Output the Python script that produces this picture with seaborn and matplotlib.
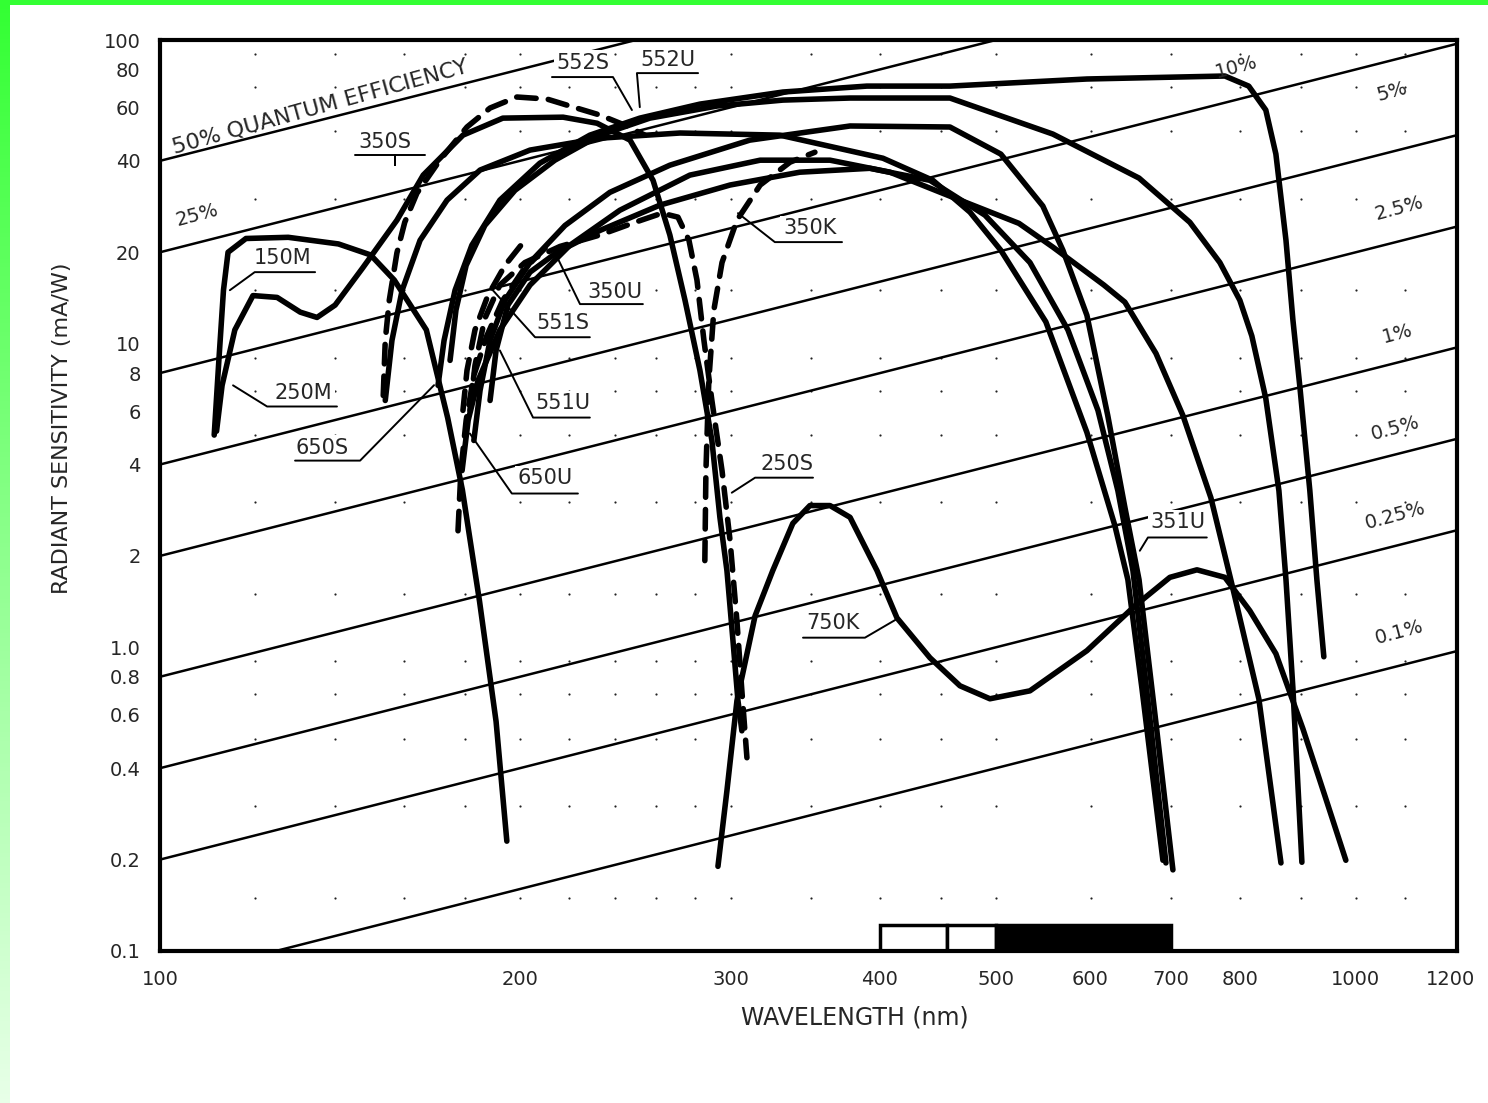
import matplotlib
matplotlib.use("Agg")
import matplotlib.pyplot as plt
from matplotlib.patches import Rectangle
from matplotlib.colors import LinearSegmentedColormap
import numpy as np
import pandas as pd
import seaborn as sns

# photocathode responses: wavelength (nm) vs radiant sensitivity (mA/W)
wl_150M = [111, 112, 113, 114, 118, 128, 141, 150, 157, 167, 174, 179, 185, 191, 195]
s_150M = [5.0, 8.8, 15, 20, 22.2, 22.4, 21.3, 19.6, 16.2, 11.1, 5.7, 3.3, 1.42, 0.57, 0.23]

wl_250M = [111.5, 112.7, 115.5, 119.6, 125.3, 131, 135.3, 140.1, 147.8, 157.8, 166, 179.2, 193.5,
           217.3, 232, 247.2, 258.4, 266.9, 274.8, 282.8, 289.4, 293.9, 297.9, 301.4, 304.3, 306.6]
s_250M = [5.15, 7.29, 11.1, 14.4, 14.2, 12.7, 12.2, 13.4, 17.8, 25.5, 35.9, 48.6, 55.3,
          55.7, 53.2, 46.8, 34.5, 22.8, 13.9, 8.17, 4.8, 2.68, 1.79, 1.05, 0.667, 0.531]

wl_552S = [153.7, 154.3, 155.5, 157.8, 160.2, 164, 171.4, 180.6, 188.8, 198.8, 210.7, 220.2, 233.3, 244.8, 254.4]
s_552S = [6.75, 10.25, 13.9, 19.9, 25.1, 31.3, 40.2, 51.7, 59.7, 64.9, 63.9, 60.6, 56.6, 52.4, 48.6]

wl_250S = [181.6, 183.4, 186.9, 192.4, 201.9, 216, 233.3, 249.6, 262.9, 271.1, 276.9, 281.2, 285,
           289.4, 295.1, 299.7, 303.7, 306.6, 309.6]
s_250S = [6.03, 8.48, 12.1, 15.6, 18.5, 20.9, 22.8, 25.1, 26.9, 26.1, 21.9, 16.2, 10.25,
          6.5, 3.82, 2.25, 1.22, 0.719, 0.433]

wl_350K = [285.5, 286.1, 287.7, 290.5, 295.1, 303.7, 317.6, 336.4, 352.9]
s_350K = [1.93, 3.82, 7.57, 12.9, 18.5, 25.5, 33.3, 39.6, 42.7]

wl_750K = [292.8, 297.9, 303.7, 314.5, 325.4, 338.2, 349.5, 363.3, 377.6, 397.7, 413.3, 440.4, 466.6,
           494.3, 533.9, 595.8, 653.6, 699, 736.4, 777.1, 815.3, 857.3, 903.1, 942.2, 980.9]
s_750K = [0.19, 0.337, 0.667, 1.27, 1.79, 2.56, 2.93, 2.93, 2.68, 1.79, 1.25, 0.924, 0.747,
          0.677, 0.719, 0.975, 1.37, 1.70, 1.80, 1.70, 1.32, 0.953, 0.539, 0.324, 0.199]

wl_650S = [170.8, 172.8, 176.5, 182.3, 192.4, 207.8, 228.8, 251.9, 282.8, 331.8, 390, 457.7, 595.8,
           777.1, 813.6, 840.8, 857.3, 874.1, 885.8, 897.9, 915.2, 927.7, 940.2]
s_650S = [7.29, 10.25, 15.0, 21.1, 29.7, 39.3, 48.6, 55.3, 61.5, 67.4, 70.5, 70.5, 74.4,
          76.1, 70.5, 58.8, 42.1, 21.9, 12.0, 7.18, 3.28, 1.67, 0.931]

wl_552U = [174.8, 176.8, 180.3, 186.9, 198.1, 213.9, 233.3, 256.8, 292.2, 331.8, 377.6, 457.7, 558,
           658.7, 726.4, 769.6, 799.8, 818.5, 840.8, 862.3, 874.1, 885.8, 901.3]
s_552U = [8.81, 12.9, 18.1, 24.5, 32.0, 40.2, 48.6, 55.3, 60.6, 63.4, 64.4, 64.4, 49.0,
          35.1, 25.1, 18.5, 13.9, 10.6, 6.6, 3.28, 1.67, 0.736, 0.196]

wl_551U = [178.9, 181, 184.5, 192.4, 203.9, 220.2, 242.4, 277.4, 317.6, 363.3, 407.8, 457.7, 522.7,
           558, 615.6, 641, 680.5, 716.8, 756.4, 786, 829.6, 865.7]
s_551U = [3.82, 5.59, 7.57, 11.1, 15.6, 21.1, 27.5, 35.9, 40.2, 40.2, 36.7, 30.6, 24.9,
          20.8, 15.6, 13.7, 9.29, 5.8, 3.11, 1.67, 0.677, 0.195]

wl_351U = [183, 185.2, 188.8, 194.3, 203.9, 218.1, 237.8, 266.9, 311.3, 377.6, 457.7, 504.8, 547.3,
           568.9, 595.8, 620.2, 641, 658.7, 680.5, 703.1]
s_351U = [4.8, 7.02, 10.25, 13.9, 18.5, 24.5, 31.5, 38.7, 46.8, 52.1, 51.7, 42.1, 28.4,
          20.3, 12.4, 5.8, 2.89, 1.67, 0.564, 0.185]

wl_350S = [154.3, 156.3, 159.4, 165, 173.8, 185.2, 203.9, 233.3, 272.2, 329.9, 402.3, 442.9, 475.7,
           504.8, 550.5, 595.8, 628.7, 644.7, 662.3, 689.7]
s_350S = [6.5, 10.25, 15.0, 21.9, 29.7, 37.3, 43.4, 47.5, 49.4, 48.6, 40.8, 34.5, 27.1,
          20.3, 11.8, 5.1, 2.52, 1.67, 0.736, 0.199]

wl_350U = [188.8, 191, 195.4, 203.9, 214.8, 233.3, 261.9, 299.7, 342.8, 392.3, 440.4, 489.6, 533.9,
           574.4, 608.6, 632.4, 651, 670.1, 693.7]
s_350U = [6.5, 9.5, 13.4, 17.2, 20.0, 23.6, 28.6, 33.3, 36.7, 37.8, 34.5, 26.5, 18.5,
          11.1, 6.03, 3.28, 1.79, 0.667, 0.195]

wl_650U = [177.5, 178.5, 180.3, 183, 187.6, 193.5, 201.1, 211.1]
s_650U = [2.42, 3.82, 5.59, 7.86, 10.6, 13.9, 17.4, 21.1]

wl_551S = [179.2, 180.6, 183.4, 188, 194.3, 201.9]
s_551S = [6.03, 8.17, 11.1, 14.4, 18.1, 21.9]

curves = {
    "150M": (wl_150M, s_150M, False), "250M": (wl_250M, s_250M, False),
    "552S": (wl_552S, s_552S, True), "250S": (wl_250S, s_250S, True),
    "350K": (wl_350K, s_350K, True), "750K": (wl_750K, s_750K, False),
    "650S": (wl_650S, s_650S, False), "552U": (wl_552U, s_552U, False),
    "551U": (wl_551U, s_551U, False), "351U": (wl_351U, s_351U, False),
    "350S": (wl_350S, s_350S, False), "350U": (wl_350U, s_350U, False),
    "650U": (wl_650U, s_650U, True), "551S": (wl_551S, s_551S, True),
}

# quantum efficiency reference lines, value read at 100 nm and 1200 nm
qe_names = ["50%", "25%", "10%", "5%", "2.5%", "1%", "0.5%", "0.25%", "0.1%"]
qe_at_100 = [40, 20, 8, 4, 2, 0.8, 0.4, 0.2, 0.08]
qe_at_1200 = [480, 240, 96, 48, 24, 9.6, 4.8, 2.4, 0.96]
qe_lab_x = [None, 107.4, 794, 1072, 1088, 1084, 1078, 1078, 1088]
qe_lab_y = [None, 26.5, 81.5, 67.4, 27.9, 10.8, 5.26, 2.72, 1.12]

# curve labels with underline + leader
lab_names = ["150M", "250M", "650S", "650U", "551U", "551S", "350U", "350K", "250S", "750K", "351U",
             "350S", "552S", "552U"]
lab_x = [126.7, 131.7, 136.6, 209.9, 217.3, 217.3, 240.1, 349.5, 334.3, 365.4, 710, 154.3, 225.8, 265.9]
lab_y = [19.1, 6.86, 4.55, 3.60, 6.36, 11.7, 14.8, 24.0, 4.03, 1.205, 2.58, 46.1, 84.0, 85.9]
lead_x = [[134.8, 120.0, 114.4], [140.6, 122.9, 115.1], [129.7, 147.0, 169.5], [223.6, 196.9, 181.6],
          [228.8, 205.1, 192.4], [228.8, 205.9, 189.8], [253.4, 224.5, 214.8], [371.8, 326.7, 304.3],
          [351.6, 314.5, 300.7], [344.9, 388.6, 413.3], [750.5, 670.1, 659.7],
          [145.6, 157.2, 157.2, 157.2, 166.6], [212.7, 239.2, 248.1], [281.8, 250.5, 251.9]]
lead_y = [[17.2, 17.2, 15.0], [6.21, 6.21, 7.29], [4.12, 4.12, 7.3], [3.21, 3.21, 5.06],
          [5.71, 5.71, 9.50], [10.5, 10.5, 15.0], [13.5, 13.5, 19.3], [21.6, 21.6, 26.9],
          [3.62, 3.62, 3.23], [1.076, 1.076, 1.24], [2.30, 2.30, 2.08],
          [41.8, 41.8, 38.7, 41.8, 41.8], [75.5, 75.5, 58.8], [77.8, 77.8, 60.1]]

# visible spectrum strip along the bottom
band_edges = [400, 455, 500, 700]
band_colors = ["white", "white", "black"]

x_ticks = [100, 200, 300, 400, 500, 600, 700, 800, 1000, 1200]
y_ticks = [0.1, 0.2, 0.4, 0.6, 0.8, 1, 2, 4, 6, 8, 10, 20, 40, 60, 80, 100]
y_tick_labels = ["0.1", "0.2", "0.4", "0.6", "0.8", "1.0", "2", "4", "6", "8", "10", "20", "40", "60", "80", "100"]

grid_x = [120, 140, 160, 180, 200, 220, 240, 260, 280, 300, 350, 400, 450, 500, 600, 700, 800, 900, 1000, 1100]
grid_y = [0.15, 0.3, 0.5, 0.7, 0.9, 1.5, 3, 5, 7, 9, 15, 30, 50, 70, 90]

sns.set_style("white")
plt.rcParams["font.family"] = ["DejaVu Sans"]

rows = []
for name, (wl, s, dashed) in curves.items():
    for a, b in zip(wl, s):
        rows.append({"tube": name, "wavelength": a, "sensitivity": b})
df = pd.DataFrame(rows)

fig = plt.figure(figsize=(14.88, 11.03), dpi=100)
ax = fig.add_axes([160 / 1488, 1 - 951 / 1103, 1297 / 1488, 911 / 1103])
ax.set_xscale("log")
ax.set_yscale("log")
ax.set_xlim(100, 1215)
ax.set_ylim(0.1, 100)

gx, gy = np.meshgrid(grid_x, grid_y)
ax.scatter(gx.ravel(), gy.ravel(), s=2.5, c="#222222", linewidths=0, zorder=1)

for lo, hi in zip(qe_at_100, qe_at_1200):
    ax.axline((100, lo), (1200, hi), color="black", lw=1.8, zorder=2)

sns.lineplot(data=df, x="wavelength", y="sensitivity", hue="tube", style="tube",
             palette={n: "black" for n in curves},
             dashes={n: ((3.5, 2.2) if curves[n][2] else "") for n in curves},
             sort=False, estimator=None, legend=False, linewidth=4,
             solid_joinstyle="round", solid_capstyle="round", dash_capstyle="round",
             ax=ax, zorder=3)

for name, x, y, lx, ly in zip(lab_names, lab_x, lab_y, lead_x, lead_y):
    ax.text(x, y, name, ha="center", va="center", fontsize=15, zorder=5,
            bbox=dict(facecolor="white", edgecolor="none", pad=2))
    ax.plot(lx, ly, color="black", lw=1.4, zorder=6)

ax.text(136, 60.1, "50% QUANTUM EFFICIENCY", rotation=15.5, rotation_mode="anchor",
        ha="center", va="center", fontsize=16)
for name, x, y in zip(qe_names, qe_lab_x, qe_lab_y):
    if x is None:
        continue
    ax.text(x, y, name, rotation=15, rotation_mode="anchor", ha="center", va="center", fontsize=14)

for lo, hi, c in zip(band_edges[:-1], band_edges[1:], band_colors):
    ax.add_patch(Rectangle((lo, 0.1), hi - lo, 0.0215, facecolor=c, edgecolor="black", lw=2.5, zorder=4))

ax.set_xlim(100, 1215)
ax.set_ylim(0.1, 100)
ax.minorticks_off()
ax.set_xticks(x_ticks)
ax.set_xticklabels([str(t) for t in x_ticks])
ax.set_yticks(y_ticks)
ax.set_yticklabels(y_tick_labels)
ax.tick_params(length=0, labelsize=14, pad=14)
ax.set_xlabel("")
ax.set_ylabel("")
for sp in ax.spines.values():
    sp.set_linewidth(3)
    sp.set_color("black")
    sp.set_zorder(7)

fig.text(855 / 1488, 1 - 1017 / 1103, "WAVELENGTH (nm)", ha="center", va="center", fontsize=17)
fig.text(62 / 1488, 1 - 428 / 1103, "RADIANT SENSITIVITY (mA/W)", ha="center", va="center",
         rotation=90, fontsize=16)

# green frame of the slide
strip = fig.add_axes([0, 0, 10 / 1488, 1])
cmap = LinearSegmentedColormap.from_list("g", ["#33ff33", "#e8ffe8"])
strip.imshow(np.linspace(0, 1, 256)[:, None], aspect="auto", cmap=cmap)
strip.axis("off")
fig.patches.append(Rectangle((0, 1 - 5 / 1103), 1, 5 / 1103, transform=fig.transFigure,
                             facecolor="#33ff33", edgecolor="none"))

fig.savefig("out.png", dpi=100)
